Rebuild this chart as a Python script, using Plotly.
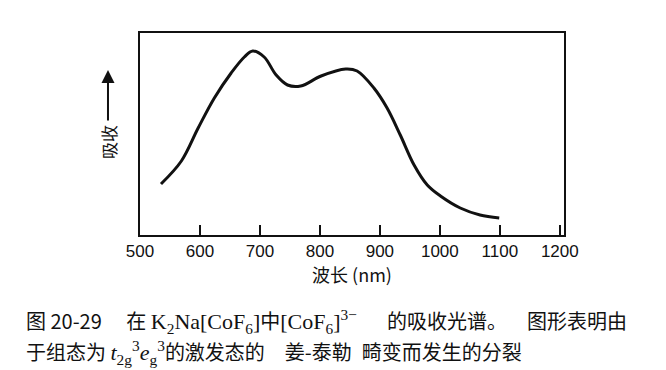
import plotly.graph_objects as go

wavelength = [535, 569, 597, 624, 652, 674, 688, 707, 727, 746, 768, 802, 843, 862,
              890, 912, 934, 957, 979, 1001, 1034, 1067, 1099]
absorbance = [51, 74, 107, 137, 162, 178, 184, 178, 160, 150, 149, 159, 166, 164,
              147, 127, 100, 70, 50, 39, 27, 20, 17]
tick_vals = [500, 600, 700, 800, 900, 1000, 1100, 1200]
tick_text = ["500", "600", "700", "800", "900", "1000", "1100", "1200"]

fig = go.Figure()
fig.add_trace(go.Scatter(x=wavelength, y=absorbance, mode="lines",
                         line=dict(color="#111", width=3, shape="spline", smoothing=1.0),
                         showlegend=False, hoverinfo="skip"))

fig.update_layout(
    width=666, height=370,
    margin=dict(l=132, r=110, t=25, b=143),
    paper_bgcolor="white", plot_bgcolor="white",
    font=dict(family="Noto Sans CJK SC, Liberation Sans", color="#111"),
)
fig.update_xaxes(range=[500, 1207], tickvals=tick_vals, ticktext=tick_text,
                 ticks="inside", ticklen=10, tickwidth=2, tickcolor="#111",
                 showline=True, linewidth=2, linecolor="#111", mirror=True,
                 showgrid=False, zeroline=False,
                 tickfont=dict(size=17, family="Liberation Sans", color="#111"),
                 title=dict(text="波长 (nm)", font=dict(size=18), standoff=6))
fig.update_yaxes(range=[0, 202], showticklabels=False, ticks="",
                 showline=True, linewidth=2, linecolor="#111", mirror=True,
                 showgrid=False, zeroline=False)

# y-axis label with upward arrow
fig.add_annotation(xref="paper", yref="paper", x=-0.0755, y=0.46, text="吸收",
                   textangle=-90, showarrow=False, font=dict(size=17),
                   xanchor="center", yanchor="middle")
fig.add_annotation(xref="paper", yref="paper", x=-0.0755, y=0.817, text="",
                   showarrow=True, ax=0, ay=52, arrowhead=2, arrowsize=1.3,
                   arrowwidth=2, arrowcolor="#111")

EN = "\u2002"
SERIF = '<span style="font-family:Liberation Serif;font-size:22px">'
line1 = ("图 20-29　 在 " + SERIF + "K<sub>2</sub>Na[CoF<sub>6</sub>]</span>中"
         + SERIF + "[CoF<sub>6</sub>]<sup>3−</sup></span>" + EN + EN + EN + "的吸收光谱。"
         + EN + EN + "图形表明由")
line2 = ("于组态为 " + SERIF + "<i>t</i><sub>2g</sub><sup>3</sup><i>e</i><sub>g</sub><sup>3</sup></span>"
         "的激发态的" + EN + EN + "姜-泰勒" + EN + "畸变而发生的分裂")

fig.add_annotation(xref="paper", yref="paper", x=-0.274, y=-0.426, xanchor="left", yanchor="middle",
                   text=line1, showarrow=False,
                   font=dict(size=20, family="Noto Sans CJK SC"), align="left")
fig.add_annotation(xref="paper", yref="paper", x=-0.274, y=-0.58, xanchor="left", yanchor="middle",
                   text=line2, showarrow=False,
                   font=dict(size=20, family="Noto Sans CJK SC"), align="left")

fig.write_html("out.html")
